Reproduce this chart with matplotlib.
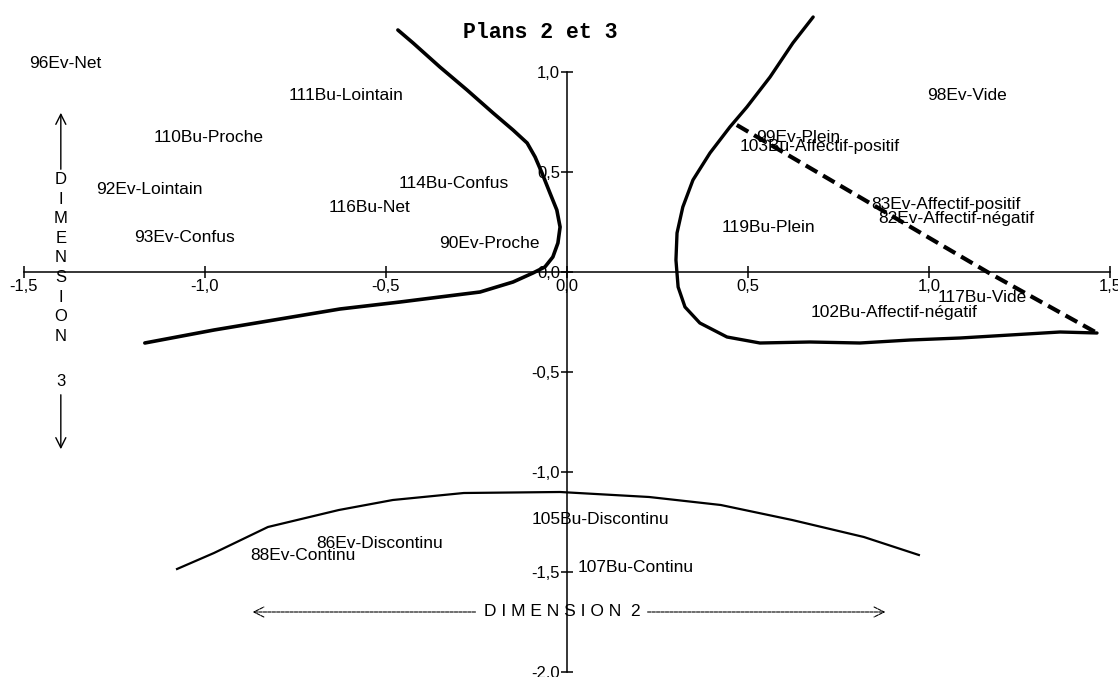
import matplotlib
matplotlib.use("Agg")
from matplotlib import pyplot as plt

# labelled points (dimension 2, dimension 3)
labels = ["96Ev-Net", "111Bu-Lointain", "110Bu-Proche", "92Ev-Lointain",
          "114Bu-Confus", "116Bu-Net", "93Ev-Confus", "90Ev-Proche",
          "98Ev-Vide", "99Ev-Plein", "103Bu-Affectif-positif",
          "83Ev-Affectif-positif", "82Ev-Affectif-négatif", "119Bu-Plein",
          "117Bu-Vide", "102Bu-Affectif-négatif", "105Bu-Discontinu",
          "86Ev-Discontinu", "88Ev-Continu", "107Bu-Continu"]
dim2 = [-1.486, -0.768, -1.141, -1.301, -0.464, -0.657, -1.196, -0.354,
        0.994, 0.522, 0.478, 0.840, 0.859, 0.428, 1.025, 0.674, -0.097,
        -0.693, -0.876, 0.030]
dim3 = [1.045, 0.88, 0.675, 0.41, 0.44, 0.325, 0.175, 0.145,
        0.88, 0.675, 0.625, 0.34, 0.27, 0.225, -0.13, -0.205, -1.24,
        -1.36, -1.42, -1.475]

# hand drawn separating curves
left_x = [-0.467, -0.425, -0.351, -0.276, -0.204, -0.149, -0.110, -0.088,
          -0.069, -0.047, -0.028, -0.019, -0.025, -0.039, -0.061, -0.094,
          -0.149, -0.240, -0.351, -0.461, -0.627, -0.776, -0.975, -1.166]
left_y = [1.21, 1.145, 1.025, 0.91, 0.795, 0.71, 0.645, 0.575,
          0.495, 0.395, 0.31, 0.225, 0.145, 0.075, 0.025, -0.005,
          -0.05, -0.10, -0.125, -0.15, -0.185, -0.23, -0.29, -0.355]
right_x = [0.680, 0.624, 0.561, 0.497, 0.450, 0.395, 0.348, 0.320, 0.304,
           0.301, 0.307, 0.326, 0.367, 0.442, 0.533, 0.671, 0.809, 0.948,
           1.086, 1.224, 1.362, 1.464]
right_y = [1.275, 1.145, 0.975, 0.825, 0.725, 0.595, 0.46, 0.325, 0.195,
           0.06, -0.075, -0.175, -0.255, -0.325, -0.355, -0.35, -0.355,
           -0.34, -0.33, -0.315, -0.30, -0.305]
dash_x = [0.469, 1.166, 1.464]
dash_y = [0.735, -0.005, -0.305]
bottom_x = [-1.077, -0.975, -0.826, -0.630, -0.481, -0.285, -0.019, 0.227,
            0.425, 0.622, 0.820, 0.972]
bottom_y = [-1.485, -1.405, -1.275, -1.19, -1.14, -1.105, -1.10, -1.125,
            -1.165, -1.24, -1.325, -1.415]

ticks_x = [-1.5, -1.0, -0.5, 0.0, 0.5, 1.0, 1.5]
ticks_y = [-2.0, -1.5, -1.0, -0.5, 0.0, 0.5, 1.0]

plt.rcParams['font.family'] = ['Liberation Sans', 'DejaVu Sans']

fig = plt.figure(figsize=(11.18, 6.77), dpi=100)
ax = fig.add_axes([0, 0, 1, 1])
ax.set_xlim(-1.566, 1.522)
ax.set_ylim(-2.025, 1.36)

# axes crossing at the origin
for s in ['top', 'right']:
    ax.spines[s].set_visible(False)
ax.spines['left'].set_position(('data', 0))
ax.spines['bottom'].set_position(('data', 0))
ax.spines['left'].set_bounds(-2.0, 1.0)
ax.spines['bottom'].set_bounds(-1.5, 1.5)
ax.spines['left'].set_linewidth(1.1)
ax.spines['bottom'].set_linewidth(1.1)
ax.set_xticks(ticks_x)
ax.set_yticks(ticks_y)
ax.set_xticklabels([("%.1f" % t).replace(".", ",") for t in ticks_x])
ax.set_yticklabels([("%.1f" % t).replace(".", ",") for t in ticks_y])
ax.tick_params(direction='inout', length=8, width=1.1, labelsize=12,
               pad=1)

ax.plot(left_x, left_y, color='black', lw=2.6, solid_capstyle='round',
        solid_joinstyle='round')
ax.plot(right_x, right_y, color='black', lw=2.4, solid_capstyle='round',
        solid_joinstyle='round')
ax.plot(dash_x, dash_y, color='black', lw=3, dashes=[3.2, 1.6])
ax.plot(bottom_x, bottom_y, color='black', lw=1.6, solid_joinstyle='round')

for name, x, y in zip(labels, dim2, dim3):
    ax.text(x, y, name, ha='left', va='center', fontsize=12.5)

ax.text(-0.075, 1.2, "Plans 2 et 3", family='Liberation Mono',
        weight='bold', fontsize=15.5, ha='center', va='center')

# dimension 3 label with arrows
ax.annotate("", xy=(-1.398, 0.81), xytext=(-1.398, 0.5),
            arrowprops=dict(arrowstyle='->', lw=1, mutation_scale=18))
ax.text(-1.398, 0.07, "\n".join("DIMENSION"), ha='center', va='center',
        fontsize=12, linespacing=1.38)
ax.text(-1.398, -0.545, "3", ha='center', va='center', fontsize=12)
ax.annotate("", xy=(-1.398, -0.9), xytext=(-1.398, -0.6),
            arrowprops=dict(arrowstyle='->', lw=1, mutation_scale=18))

# dimension 2 label with arrows
ax.text(-0.014, -1.7, "D I M E N S I O N  2", ha='center', va='center',
        fontsize=12.5)
ax.annotate("", xy=(-0.876, -1.7), xytext=(-0.245, -1.7),
            arrowprops=dict(arrowstyle='->', lw=0.8, linestyle=(0, (3, 1)),
                            mutation_scale=18))
ax.annotate("", xy=(0.887, -1.7), xytext=(0.215, -1.7),
            arrowprops=dict(arrowstyle='->', lw=0.8, linestyle=(0, (3, 1)),
                            mutation_scale=18))

fig.savefig("out.png", dpi=100)
plt.close(fig)
